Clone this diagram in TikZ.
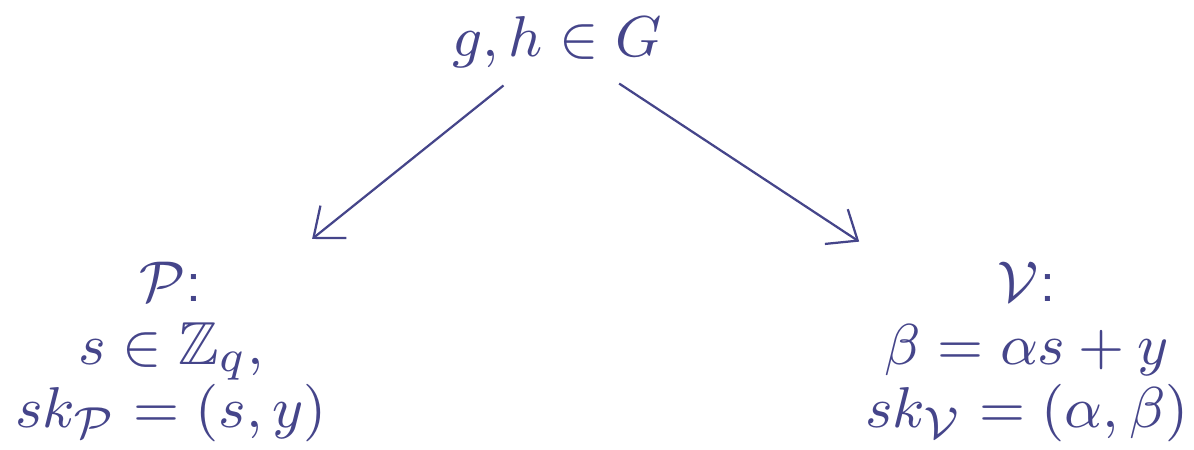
\documentclass[tikz,border=0pt]{standalone}
\usepackage{amssymb}
\usetikzlibrary{arrows.meta}
\definecolor{ink}{RGB}{69,69,138}
\begin{document}
\begin{tikzpicture}[x=0.15625pt,y=-0.15625pt,
  lbl/.style={text=ink,inner sep=0pt,align=center,font=\fontsize{9.5}{9.85}\selectfont},
  arr/.style={draw=ink,line width=0.35pt,-{Straight Barb[length=4pt,width=6.5pt]}}]
\useasboundingbox (0,0) rectangle (1194,450);
\node[lbl,anchor=base] (top) at (557,57) {$g,h\in G$};
\node[lbl,anchor=north] (left) at (171,261) {$\mathcal{P}$\textsf{:}\\ $s\in\mathbb{Z}_q,$\\ $sk_{\mathcal{P}}=(s,y)$};
\node[lbl,anchor=north] (right) at (1027,261) {$\mathcal{V}$\textsf{:}\\ $\beta=\alpha s+y$\\ $sk_{\mathcal{V}}=(\alpha,\beta)$};
\draw[arr,shorten <=4pt,shorten >=5.5pt] (top) -- (left);
\draw[arr,shorten <=4pt,shorten >=5.5pt] (top) -- (right);
\end{tikzpicture}
\end{document}
